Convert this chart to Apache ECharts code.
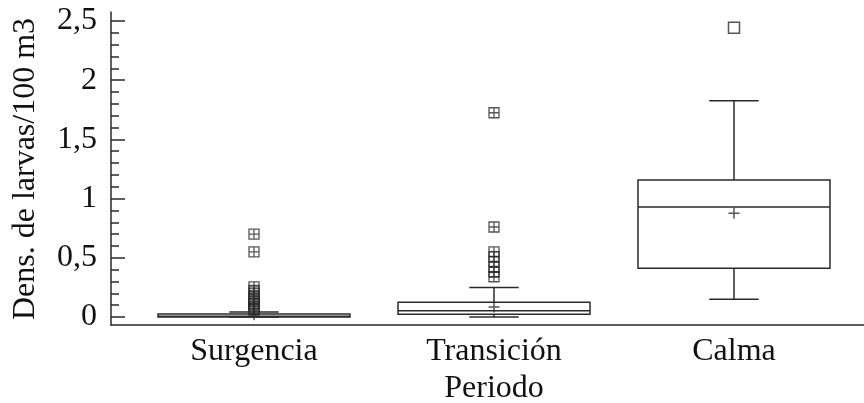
<!DOCTYPE html>
<html><head><meta charset="utf-8">
<script src="https://cdn.jsdelivr.net/npm/echarts@6/dist/echarts.min.js"></script>
<style>html,body{margin:0;padding:0;background:#fff}#c{width:864px;height:403px}</style>
</head><body><div id="c"></div>
<script>
var categories = ['Surgencia', 'Transición', 'Calma'];
var boxMin    = [0.000, 0.000, 0.149];
var boxQ1     = [0.000, 0.023, 0.411];
var boxMedian = [0.006, 0.053, 0.929];
var boxQ3     = [0.026, 0.124, 1.157];
var boxMax    = [0.043, 0.250, 1.827];
var means     = [0.020, 0.085, 0.876];
var surgOutliers  = [0.70, 0.55, 0.255, 0.225, 0.20, 0.17, 0.15, 0.13, 0.115, 0.10, 0.085, 0.07, 0.06];
var transOutliers = [1.725, 0.76, 0.55, 0.51, 0.47, 0.42, 0.38, 0.34];
var calmaOutliers = [2.443];
var yTicks = [0, 0.5, 1, 1.5, 2, 2.5];

var FONT = 'Liberation Serif';
var FS = 32;
var INK = '#2a2a2a';
var TXT = '#111';
var boxData = categories.map(function (c, i) { return [i, boxMin[i], boxQ1[i], boxMedian[i], boxQ3[i], boxMax[i]]; });
var farData = [];
surgOutliers.forEach(function (v) { farData.push([0, v]); });
transOutliers.forEach(function (v) { farData.push([1, v]); });
var nearData = calmaOutliers.map(function (v) { return [2, v]; });
var meanData = means.map(function (v, i) { return [i, v]; });

var chart = echarts.init(document.getElementById('c'), null, { renderer: 'canvas' });
chart.setOption({
  animation: false,
  grid: [
    { left: 134, right: 10, top: 21, bottom: 86, outerBoundsMode: 'none', containLabel: false },
    { left: 111, right: 0, top: 21, bottom: 86, outerBoundsMode: 'none', containLabel: false },
    { left: 111, right: 0, top: 12, bottom: 78, outerBoundsMode: 'none', containLabel: false }
  ],
  xAxis: [
    { type: 'category', gridIndex: 0, data: categories, boundaryGap: true,
      axisLine: { show: false }, axisTick: { show: false },
      axisLabel: { margin: 19, fontFamily: FONT, fontSize: FS, color: TXT },
      name: 'Periodo', nameLocation: 'middle', nameGap: 52,
      nameTextStyle: { fontFamily: FONT, fontSize: FS, color: TXT } },
    { type: 'value', gridIndex: 1, min: 0, max: 1, show: false },
    { type: 'value', gridIndex: 2, min: 0, max: 1,
      axisLine: { show: true, lineStyle: { color: INK, width: 1.5 } },
      axisTick: { show: false }, axisLabel: { show: false }, splitLine: { show: false } }
  ],
  yAxis: [
    { type: 'value', gridIndex: 0, min: 0, max: 2.5, interval: 0.5, show: false },
    { type: 'value', gridIndex: 1, min: 0, max: 2.5, interval: 0.5,
      axisLine: { show: false },
      axisTick: { show: true, inside: true, length: 14, lineStyle: { color: INK, width: 1.5 } },
      minorTick: { show: true, splitNumber: 5, length: 8, lineStyle: { color: INK, width: 1.5 } },
      splitLine: { show: false }, minorSplitLine: { show: false },
      axisLabel: { margin: 14, fontFamily: FONT, fontSize: FS, color: TXT,
        formatter: function (v) { return String(v).replace('.', ','); } },
      name: 'Dens. de larvas/100 m3', nameLocation: 'middle', nameGap: 69,
      nameTextStyle: { fontFamily: FONT, fontSize: FS, color: TXT } },
    { type: 'value', gridIndex: 2, min: 0, max: 1,
      axisLine: { show: true, lineStyle: { color: INK, width: 1.5 } },
      axisTick: { show: false }, axisLabel: { show: false }, splitLine: { show: false } }
  ],
  series: [
    { type: 'custom', xAxisIndex: 0, yAxisIndex: 0, data: boxData,
      renderItem: function (params, api) {
        var x = api.value(0);
        var lo = api.coord([x, api.value(1)]);
        var q1 = api.coord([x, api.value(2)]);
        var md = api.coord([x, api.value(3)]);
        var q3 = api.coord([x, api.value(4)]);
        var hi = api.coord([x, api.value(5)]);
        var band = api.size([1, 0])[0];
        var hb = band * 0.4, hc = band * 0.103;
        var st = { stroke: INK, lineWidth: 1.5, fill: null };
        var cx = lo[0];
        return { type: 'group', children: [
          { type: 'line', shape: { x1: cx, y1: hi[1], x2: cx, y2: q3[1] }, style: st },
          { type: 'line', shape: { x1: cx, y1: lo[1], x2: cx, y2: q1[1] }, style: st },
          { type: 'line', shape: { x1: cx - hc, y1: hi[1], x2: cx + hc, y2: hi[1] }, style: st },
          { type: 'line', shape: { x1: cx - hc, y1: lo[1], x2: cx + hc, y2: lo[1] }, style: st },
          { type: 'rect', shape: { x: cx - hb, y: q3[1], width: 2 * hb, height: q1[1] - q3[1] }, style: { stroke: INK, lineWidth: 1.5, fill: 'rgba(0,0,0,0)' } },
          { type: 'line', shape: { x1: cx - hb, y1: md[1], x2: cx + hb, y2: md[1] }, style: st }
        ] };
      }
    },
    { type: 'scatter', xAxisIndex: 0, yAxisIndex: 0, data: meanData,
      symbol: 'path://M0 5H10M5 0V10', symbolSize: 11,
      itemStyle: { color: 'rgba(0,0,0,0)', borderColor: INK, borderWidth: 1.5 } },
    { type: 'scatter', xAxisIndex: 0, yAxisIndex: 0, data: farData,
      symbol: 'path://M0 0H10V10H0ZM5 0V10M0 5H10', symbolSize: 10,
      itemStyle: { color: 'rgba(0,0,0,0)', borderColor: INK, borderWidth: 1.3 } },
    { type: 'scatter', xAxisIndex: 0, yAxisIndex: 0, data: nearData,
      symbol: 'rect', symbolSize: 11,
      itemStyle: { color: 'rgba(0,0,0,0)', borderColor: INK, borderWidth: 1.5 } }
  ]
});
</script></body></html>
